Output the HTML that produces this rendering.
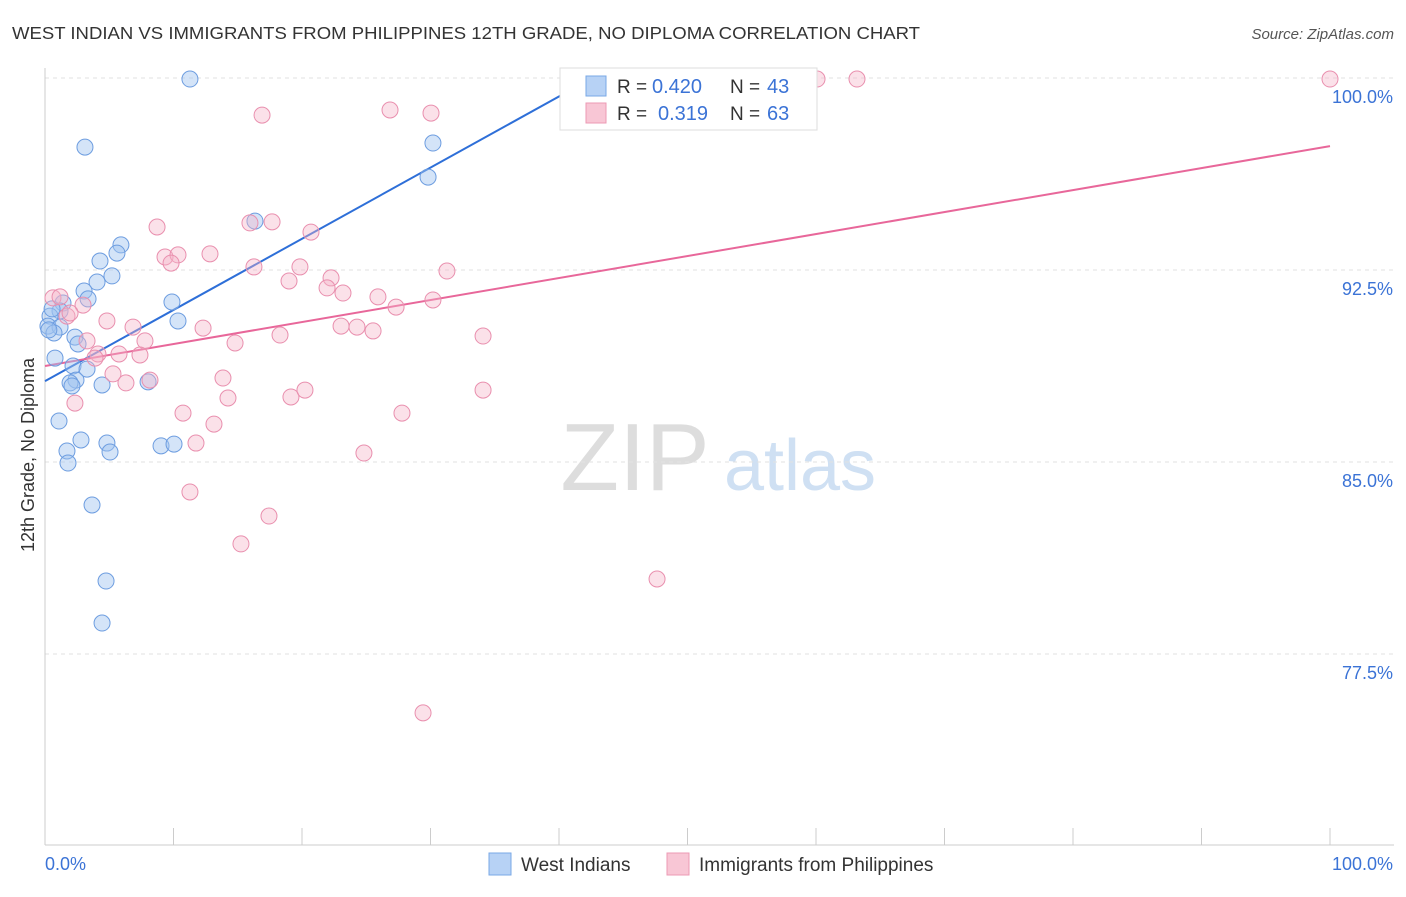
<!DOCTYPE html>
<html><head><meta charset="utf-8"><style>
body{margin:0;background:#fff;font-family:"Liberation Sans",sans-serif}
svg text{font-family:"Liberation Sans",sans-serif}
</style></head><body>
<svg id="c" width="1406" height="892">
<text x="12" y="39" font-size="17.5" fill="#333" textLength="908" lengthAdjust="spacingAndGlyphs">WEST INDIAN VS IMMIGRANTS FROM PHILIPPINES 12TH GRADE, NO DIPLOMA CORRELATION CHART</text>
<text x="1394" y="39" font-size="15" fill="#555" font-style="italic" text-anchor="end">Source: ZipAtlas.com</text>
<text transform="translate(34,455) rotate(-90)" font-size="18" fill="#333" text-anchor="middle">12th Grade, No Diploma</text>
<g>
<text x="635" y="490" font-size="96" font-family="Liberation Serif,serif" fill="#ddd" text-anchor="middle">ZIP</text>
<text x="800" y="490" font-size="72" fill="#cfe0f3" text-anchor="middle">atlas</text>
</g>
<g id="grid"></g><g id="axes"></g><g id="lines"></g><g id="pts"></g>
<g>
<rect x="560" y="68" width="257" height="62" fill="#fff" stroke="#ddd"/>
<rect x="586" y="76" width="20" height="20" fill="#b7d2f5" stroke="#7aa8e6"/>
<rect x="586" y="103" width="20" height="20" fill="#f8c6d5" stroke="#ec9ab4"/>
<text x="617" y="93" font-size="19" fill="#333">R =</text>
<text x="652" y="93" font-size="20" fill="#3b73d6">0.420</text>
<text x="730" y="93" font-size="19" fill="#333">N =</text>
<text x="767" y="93" font-size="20" fill="#3b73d6">43</text>
<text x="617" y="120" font-size="19" fill="#333">R =</text>
<text x="658" y="120" font-size="20" fill="#3b73d6">0.319</text>
<text x="730" y="120" font-size="19" fill="#333">N =</text>
<text x="767" y="120" font-size="20" fill="#3b73d6">63</text>
</g>
<g>
<rect x="489" y="853" width="22" height="22" fill="#b7d2f5" stroke="#7aa8e6"/>
<text x="521" y="871" font-size="19" fill="#333">West Indians</text>
<rect x="667" y="853" width="22" height="22" fill="#f8c6d5" stroke="#ec9ab4"/>
<text x="699" y="871" font-size="19" fill="#333">Immigrants from Philippines</text>
</g>
</svg>
<script>
const yTicks=[100,92.5,85,77.5];
const yTickLabels=["100.0%","92.5%","85.0%","77.5%"];
const xTickLabels=["0.0%","100.0%"];
const blueX=[11.28,3.11,30.19,29.81,16.34,5.91,5.60,4.28,5.21,4.05,3.04,3.35,1.40,9.88,1.17,0.39,10.35,0.23,1.17,0.70,2.33,2.57,0.78,2.18,3.27,2.41,1.95,2.10,4.44,8.02,1.09,2.80,4.82,9.03,10.04,5.06,1.71,1.79,3.66,4.75,4.44,0.3,0.55];
const blueY=[99.96,97.30,97.46,96.13,94.41,93.48,93.16,92.85,92.27,92.03,91.68,91.37,91.21,91.25,90.90,90.70,90.51,90.31,90.27,90.04,89.88,89.61,89.06,88.75,88.63,88.20,88.09,87.97,88.01,88.13,86.60,85.86,85.74,85.63,85.70,85.39,85.43,84.96,83.32,80.35,78.71,90.16,90.98];
const pinkX=[60.08,63.19,100,26.85,16.89,30.04,8.72,15.95,17.67,20.70,9.34,10.35,9.81,12.84,16.26,19.84,31.28,18.99,22.26,21.95,23.19,25.91,27.32,30.19,0.62,1.17,2.96,1.71,4.82,6.85,12.30,23.04,24.28,25.53,18.29,34.09,3.27,7.78,14.79,4.12,5.76,7.39,5.29,6.30,8.17,13.85,2.33,14.24,19.14,20.23,34.09,10.74,27.78,13.15,11.75,24.82,11.28,17.43,15.25,47.63,29.42,1.95,3.89];
const pinkY=[99.96,99.96,99.96,98.75,98.55,98.63,94.18,94.34,94.38,93.98,93.01,93.09,92.77,93.13,92.62,92.62,92.46,92.07,92.19,91.80,91.60,91.45,91.05,91.33,91.41,91.45,91.13,90.70,90.51,90.27,90.23,90.31,90.27,90.12,89.96,89.92,89.73,89.73,89.65,89.22,89.22,89.18,88.44,88.09,88.20,88.28,87.30,87.50,87.54,87.81,87.81,86.91,86.91,86.48,85.74,85.35,83.83,82.89,81.80,80.43,75.20,90.82,89.06];
const blueTrend=[88.16,0.278]; // intercept, slope
const pinkTrend=[88.75,0.0859];
const xs=v=>45+v*12.85, ys=v=>78+(100-v)*25.6;
const NS="http://www.w3.org/2000/svg";
function mk(t,a,p){const e=document.createElementNS(NS,t);for(const k in a)e.setAttribute(k,a[k]);p.appendChild(e);return e;}
const grid=document.getElementById('grid'),axes=document.getElementById('axes');
yTicks.forEach((t,i)=>{
 const l=mk('line',{x1:45,x2:1394,y1:ys(t),y2:ys(t),stroke:'#e2e2e2','stroke-dasharray':'4,4'},grid);
 
 
 const tx=mk('text',{x:1393,y:ys(t)+25,'font-size':18,fill:'#3b73d6','text-anchor':'end'},axes);
 tx.textContent=yTickLabels[i];
 
 
});
mk('line',{x1:45,x2:45,y1:68,y2:845,stroke:'#ccc'},axes);
mk('line',{x1:45,x2:1394,y1:845,y2:845,stroke:'#ccc'},axes);
for(let i=0;i<=10;i++){mk('line',{x1:xs(i*10),x2:xs(i*10),y1:828,y2:845,stroke:'#ccc'},axes);}
[0,100].forEach((v,i)=>{const t=mk('text',{x:i?1393:45,y:870,'font-size':18,fill:'#3b73d6','text-anchor':i?'end':'start'},axes);t.textContent=xTickLabels[i];

});
const pts=document.getElementById('pts');
blueX.forEach((x,i)=>{const c=mk('circle',{cx:xs(x),cy:ys(blueY[i]),r:8,fill:'rgba(160,195,240,0.45)',stroke:'#6d9de0','stroke-width':1},pts);

});
pinkX.forEach((x,i)=>{const c=mk('circle',{cx:xs(x),cy:ys(pinkY[i]),r:8,fill:'rgba(245,180,200,0.4)',stroke:'#e98fae','stroke-width':1},pts);

});
const ln=document.getElementById('lines');
const bl=mk('line',{x1:xs(0),y1:ys(blueTrend[0]),x2:xs(42),y2:ys(blueTrend[0]+42*blueTrend[1]),stroke:'#2e6fd8','stroke-width':2},ln);


const pl=mk('line',{x1:xs(0),y1:ys(pinkTrend[0]),x2:xs(100),y2:ys(pinkTrend[0]+100*pinkTrend[1]),stroke:'#e8679a','stroke-width':2},ln);


</script>
</body></html>
